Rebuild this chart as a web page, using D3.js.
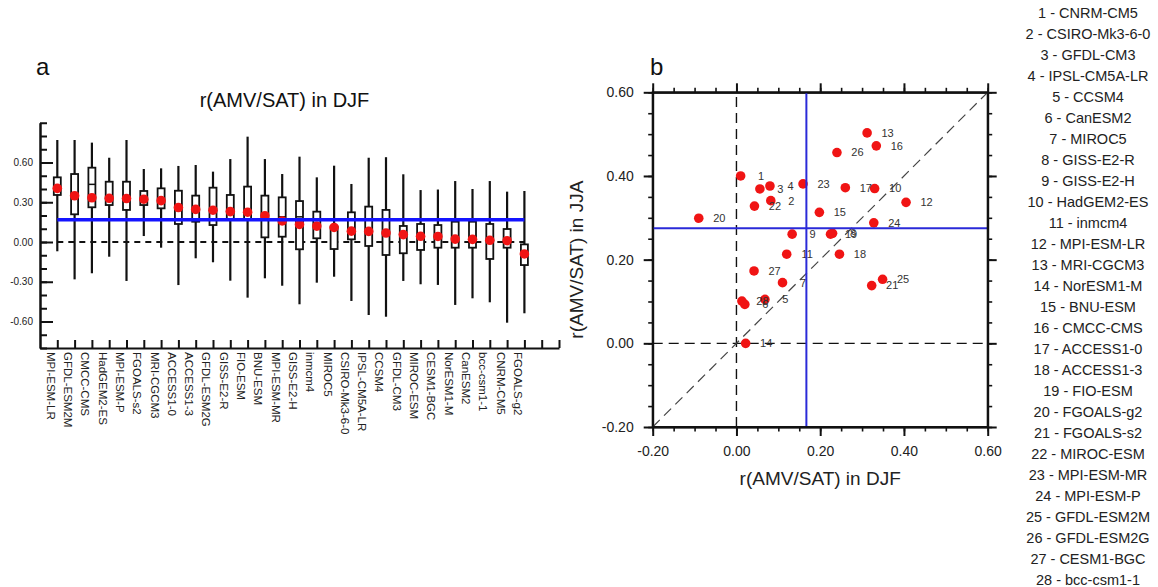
<!DOCTYPE html>
<html><head><meta charset="utf-8">
<script src="https://cdn.jsdelivr.net/npm/d3@7"></script>
<style>body{margin:0;background:#fff}svg{display:block;font-family:"Liberation Sans",Arial,Helvetica,sans-serif}</style>
</head><body><svg id="c" width="1158" height="587"></svg>
<script>
// ---- scatter data (panel b) : model number = index+1 ----
const models = ["CNRM-CM5","CSIRO-Mk3-6-0","GFDL-CM3","IPSL-CM5A-LR","CCSM4","CanESM2","MIROC5",
  "GISS-E2-R","GISS-E2-H","HadGEM2-ES","inmcm4","MPI-ESM-LR","MRI-CGCM3","NorESM1-M","BNU-ESM",
  "CMCC-CMS","ACCESS1-0","ACCESS1-3","FIO-ESM","FGOALS-g2","FGOALS-s2","MIROC-ESM","MPI-ESM-MR",
  "MPI-ESM-P","GFDL-ESM2M","GFDL-ESM2G","CESM1-BGC","bcc-csm1-1"];
const djf = [0.010,0.082,0.056,0.080,0.068,0.020,0.110,0.2295,0.133,0.330,0.120,0.405,0.312,0.022,
  0.198,0.334,0.260,0.246,0.2247,-0.090,0.323,0.043,0.159,0.328,0.349,0.240,0.042,0.013];
const jja = [0.400,0.341,0.369,0.376,0.105,0.093,0.145,0.263,0.261,0.370,0.213,0.337,0.503,0.000,
  0.313,0.472,0.372,0.213,0.261,0.299,0.138,0.328,0.381,0.288,0.153,0.456,0.173,0.101];
const meanDJF = 0.167;
const meanJJA = 0.275;

// ---- box-plot data (panel a), sorted by DJF correlation ----
const boxModels = ["MPI-ESM-LR","GFDL-ESM2M","CMCC-CMS","HadGEM2-ES","MPI-ESM-P","FGOALS-s2","MRI-CGCM3",
  "ACCESS1-0","ACCESS1-3","GFDL-ESM2G","GISS-E2-R","FIO-ESM","BNU-ESM","MPI-ESM-MR","GISS-E2-H","inmcm4",
  "MIROC5","CSIRO-Mk3-6-0","IPSL-CM5A-LR","CCSM4","GFDL-CM3","MIROC-ESM","CESM1-BGC","NorESM1-M",
  "CanESM2","bcc-csm1-1","CNRM-CM5","FGOALS-g2"];
const whiskerHigh = [0.77,0.77,0.75,0.636,0.77,0.551,0.556,0.574,0.581,0.531,0.626,0.795,0.626,0.513,
  0.644,0.488,0.576,0.438,0.636,0.64,0.511,0.392,0.396,0.46,0.40,0.46,0.38,0.385];
const boxHigh = [0.488,0.513,0.561,0.455,0.455,0.385,0.405,0.387,0.35,0.41,0.355,0.418,0.35,0.337,
  0.309,0.229,0.115,0.224,0.267,0.242,0.121,0.136,0.128,0.153,0.153,0.136,0.098,-0.018];
const medians = [0.41,0.35,0.435,0.33,0.34,0.32,0.31,0.27,0.25,0.24,0.24,0.23,0.20,0.19,0.19,0.12,
  0.10,0.09,0.09,0.06,0.05,0.04,0.05,0.03,0.03,0.02,0.02,-0.09];
const boxLow = [0.355,0.209,0.262,0.279,0.242,0.279,0.254,0.136,0.153,0.128,0.166,0.166,0.035,0.04,
  -0.055,0.028,-0.053,0.02,-0.03,-0.098,-0.085,-0.06,-0.043,-0.043,-0.043,-0.128,-0.043,-0.174];
const whiskerLow = [-0.07,-0.282,-0.236,-0.111,-0.294,0.045,-0.043,-0.325,-0.123,-0.153,-0.292,-0.42,
  -0.274,-0.33,-0.47,-0.307,-0.262,-0.445,-0.551,-0.564,-0.294,-0.319,-0.324,-0.475,-0.425,-0.455,-0.609,-0.538];
const leftYTicks = [-0.6,-0.3,0,0.3,0.6];
const rightTicks = [-0.2,0,0.2,0.4,0.6];

const svg = d3.select("#c");
svg.append("rect").attr("width",1158).attr("height",587).attr("fill","#fff");
const fmt = d => d.toFixed(2);
function styleAxis(g, w, fs){
  g.selectAll(".domain").attr("stroke","#111").attr("stroke-width",w);
  g.selectAll(".tick line").attr("stroke","#111").attr("stroke-width",w);
  g.selectAll(".tick text").attr("fill","#222").attr("font-size",fs)
    .attr("font-family","Liberation Sans, Arial, sans-serif");
}

// ================= Panel a =================
const xL = d3.scaleLinear().domain([0,30]).range([40,559]);
const yL = d3.scaleLinear().domain([-0.8,0.9]).range([348,122.75]);
const gA = svg.append("g");

gA.append("text").attr("x",36).attr("y",75).attr("font-size",24).attr("fill","#111").text("a");
gA.append("text").attr("x",(xL(0)+xL(30))/2 - 15).attr("y",107).attr("text-anchor","middle")
  .attr("font-size",20).attr("fill","#111").text("r(AMV/SAT) in DJF");

const yMinorL = d3.range(-8,10).map(d=>d/10);
styleAxis(gA.append("g").attr("transform",`translate(${xL(0)},0)`)
  .call(d3.axisLeft(yL).tickValues(yMinorL).tickSize(-7).tickFormat("").tickSizeOuter(0)),2,10);
styleAxis(gA.append("g").attr("transform",`translate(${xL(0)},0)`)
  .call(d3.axisLeft(yL).tickValues(leftYTicks).tickSize(-13).tickPadding(7).tickFormat(fmt).tickSizeOuter(0)),2,10);
styleAxis(gA.append("g").attr("transform",`translate(0,${yL(-0.8)})`)
  .call(d3.axisBottom(xL).tickValues(d3.range(1,31)).tickSize(-8).tickFormat("").tickSizeOuter(0)),2,10);

// zero dashed line
gA.append("line").attr("x1",xL(1)).attr("x2",xL(boxModels.length)).attr("y1",yL(0)).attr("y2",yL(0))
  .attr("stroke","#111").attr("stroke-width",2).attr("stroke-dasharray","6,5");

const boxes = gA.append("g").selectAll("g").data(boxModels).join("g")
  .attr("transform",(d,i)=>`translate(${xL(i+1)},0)`);
boxes.append("line").attr("y1",(d,i)=>yL(whiskerLow[i])).attr("y2",(d,i)=>yL(whiskerHigh[i]))
  .attr("stroke","#111").attr("stroke-width",2.2);
boxes.append("rect").attr("x",-3.5).attr("width",7)
  .attr("y",(d,i)=>yL(boxHigh[i])).attr("height",(d,i)=>yL(boxLow[i])-yL(boxHigh[i]))
  .attr("fill","#fff").attr("stroke","#111").attr("stroke-width",1.8);
boxes.append("line").attr("x1",-3.5).attr("x2",3.5).attr("y1",(d,i)=>yL(medians[i])).attr("y2",(d,i)=>yL(medians[i]))
  .attr("stroke","#111").attr("stroke-width",1.5);

gA.append("line").attr("x1",xL(1)).attr("x2",xL(boxModels.length)).attr("y1",yL(meanDJF)).attr("y2",yL(meanDJF))
  .attr("stroke","#1414ff").attr("stroke-width",3.5);

boxes.append("circle").attr("r",4.8).attr("cy",d=>yL(djf[models.indexOf(d)])).attr("fill","#f01414");

gA.append("g").selectAll("text").data(boxModels).join("text")
  .attr("transform",(d,i)=>`translate(${xL(i+1)-6.5},${yL(-0.8)+4}) rotate(90)`)
  .attr("dy","0.35em").attr("font-size",11.5).attr("fill","#222").text(d=>d);

// ================= Panel b =================
const xR = d3.scaleLinear().domain([-0.2,0.6]).range([652.7,987.7]);
const yR = d3.scaleLinear().domain([-0.2,0.6]).range([427,92.3]);
const gB = svg.append("g");
gB.append("text").attr("x",650).attr("y",75).attr("font-size",24).attr("fill","#111").text("b");

const minorR = d3.range(-4,13).map(d=>d*5/100);
const axDefs = [
  [d3.axisLeft, `translate(${xR(-0.2)},0)`, yR, true],
  [d3.axisBottom, `translate(0,${yR(-0.2)})`, xR, true],
  [d3.axisTop, `translate(0,${yR(0.6)})`, xR, false],
  [d3.axisRight, `translate(${xR(0.6)},0)`, yR, false]
];
axDefs.forEach(([ax,tr,sc,lab])=>{
  styleAxis(gB.append("g").attr("transform",tr)
    .call(ax(sc).tickValues(minorR).tickSize(4.5).tickFormat("").tickSizeOuter(0)),1.6,14);
  styleAxis(gB.append("g").attr("transform",tr)
    .call(ax(sc).tickValues(rightTicks).tickSize(9).tickPadding(10).tickFormat(lab?fmt:"").tickSizeOuter(0)),2,14);
});

// dashed reference lines
const dash = (x1,y1,x2,y2,col,w)=>gB.append("line").attr("x1",xR(x1)).attr("y1",yR(y1)).attr("x2",xR(x2)).attr("y2",yR(y2))
  .attr("stroke",col).attr("stroke-width",w).attr("stroke-dasharray","10,6");
dash(0,-0.2,0,0.6,"#111",1.4);
dash(-0.2,0,0.6,0,"#111",1.4);
dash(-0.2,-0.2,0.6,0.6,"#444",1.2);

const pts = gB.append("g").selectAll("g").data(models).join("g")
  .attr("transform",(d,i)=>`translate(${xR(djf[i])},${yR(jja[i])})`);
pts.append("circle").attr("r",4.8).attr("fill","#f01414");
pts.append("text").attr("x",20.5).attr("dy","0.35em").attr("text-anchor","middle")
  .attr("font-size",11).attr("fill","#333").text((d,i)=>i+1);

gB.append("line").attr("x1",xR(meanDJF)).attr("x2",xR(meanDJF)).attr("y1",yR(-0.2)).attr("y2",yR(0.6))
  .attr("stroke","#2a2ad8").attr("stroke-width",2);
gB.append("line").attr("x1",xR(-0.2)).attr("x2",xR(0.6)).attr("y1",yR(meanJJA)).attr("y2",yR(meanJJA))
  .attr("stroke","#2a2ad8").attr("stroke-width",2);

gB.append("rect").attr("x",xR(-0.2)).attr("y",yR(0.6)).attr("width",xR(0.6)-xR(-0.2)).attr("height",yR(-0.2)-yR(0.6))
  .attr("fill","none").attr("stroke","#111").attr("stroke-width",2);

gB.append("text").attr("x",(xR(-0.2)+xR(0.6))/2).attr("y",485).attr("text-anchor","middle")
  .attr("font-size",19).attr("fill","#222").text("r(AMV/SAT) in DJF");
gB.append("text").attr("transform",`translate(576,${(yR(-0.2)+yR(0.6))/2}) rotate(-90)`)
  .attr("text-anchor","middle").attr("dy","0.35em").attr("font-size",19).attr("fill","#222").text("r(AMV/SAT) in JJA");

// ================= Legend =================
svg.append("g").selectAll("text").data(models).join("text")
  .attr("x",1088).attr("y",(d,i)=>18+i*21).attr("text-anchor","middle")
  .attr("font-size",14.5).attr("fill","#222").text((d,i)=>`${i+1} - ${d}`);
</script></body></html>
